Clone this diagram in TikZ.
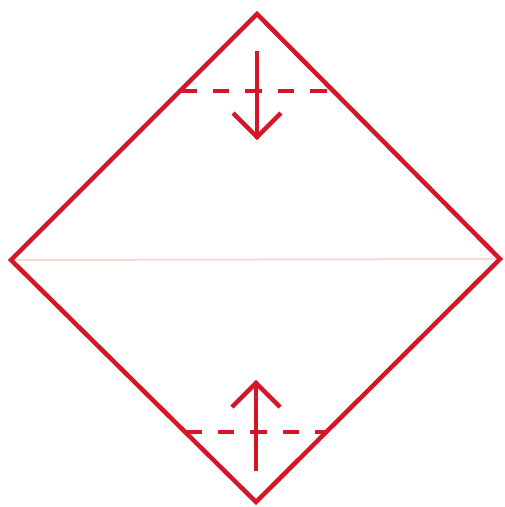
\documentclass[tikz,border=0pt]{standalone}
\definecolor{signred}{RGB}{212,22,38}
\definecolor{foldpink}{RGB}{247,218,212}
\begin{document}
\tikzset{
  outline/.style={draw=signred, line width=4.5pt, line join=miter},
  foldline/.style={draw=signred, line width=4.5pt, dash pattern=on 16.5pt off 16pt},
  shaft/.style={draw=signred, line width=4.5pt},
  barb/.style={draw=signred, line width=4.5pt, line join=miter, line cap=butt},
  midline/.style={draw=foldpink, line width=2pt}
}
\begin{tikzpicture}[x=1pt,y=-1pt]
\useasboundingbox (0,0) rectangle (505,507);
\coordinate (T) at (257,14);
\coordinate (L) at (11,260);
\coordinate (R) at (500,259);
\coordinate (B) at (256,502);
\draw[midline] (L) -- (R);
\draw[outline] (T) -- (R) -- (B) -- (L) -- cycle;
\coordinate (tfl) at (180,91);
\coordinate (tfr) at (331,91);
\draw[foldline] (tfl) -- (tfr);
\coordinate (tas) at (257,51);
\coordinate (tat) at (257,137);
\draw[shaft] (tas) -- ([yshift=-2pt]tat);
\draw[barb] (233,113) -- (tat) -- (281,113);
\coordinate (bfl) at (185,432);
\coordinate (bfr) at (328,432);
\draw[foldline] (bfl) -- (bfr);
\coordinate (bas) at (256,471);
\coordinate (bat) at (256,383);
\draw[shaft] (bas) -- ([yshift=2pt]bat);
\draw[barb] (232,407) -- (bat) -- (280,407);
\end{tikzpicture}
\end{document}
